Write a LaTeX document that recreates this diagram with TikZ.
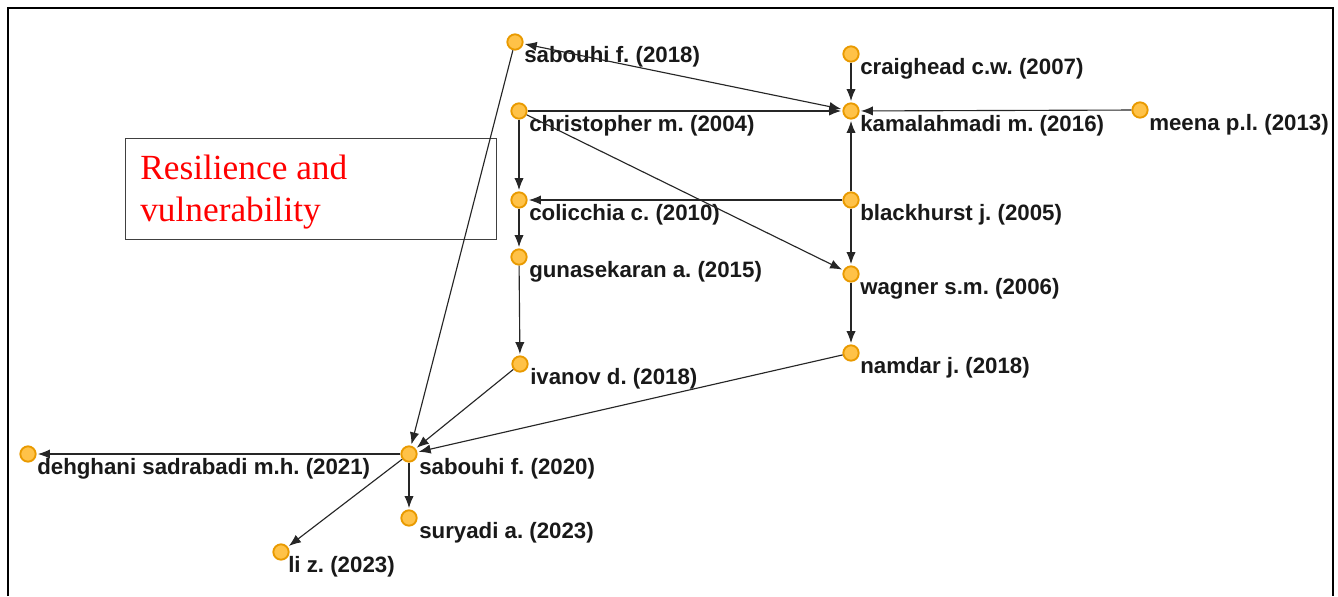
\documentclass[tikz,border=0pt]{standalone}
\usepackage{fontspec}
\setmainfont{Liberation Sans}
\newfontfamily\serifred{Liberation Serif}
\usetikzlibrary{arrows.meta,calc}
\definecolor{dotfill}{HTML}{FFC248}
\definecolor{dotdraw}{HTML}{E99A00}
\definecolor{boxgray}{HTML}{404040}
\frenchspacing
\begin{document}
\begin{tikzpicture}[x=0.75pt,y=-0.75pt,
  dot/.style={circle,fill=dotfill,draw=dotdraw,line width=1.4pt,minimum size=11.5pt,inner sep=0pt},
  lab/.style={anchor=west,inner sep=0pt,font=\fontsize{16.7pt}{19pt}\selectfont\bfseries,text=black!90},
  edge/.style={-{Latex[length=9pt,width=7pt]},line width=0.85pt,black!85,shorten >=1pt},
  bedge/.style={{Latex[length=9pt,width=7pt]}-{Latex[length=9pt,width=7pt]},line width=0.85pt,black!85,shorten >=1pt,shorten <=1pt},
  frame/.style={line width=1.6pt,black},
  boxsty/.style={draw=boxgray,line width=1.1pt,inner sep=0pt,anchor=north west,minimum width=278.25pt,minimum height=75.75pt},
  redtext/.style={anchor=north west,inner sep=0pt,align=left,text=red,font=\serifred\fontsize{26.5pt}{31.5pt}\selectfont}
]
\useasboundingbox (0,0) rectangle (1338,596);
\fill[white] (0,0) rectangle (1338,596);
\draw[frame] (8,596) -- (8,8) -- (1333,8) -- (1333,596);

% text box
\node[boxsty] (box) at (125,138) {};
\node[redtext] (boxtext) at (140,155) {Resilience and\\vulnerability};

% nodes
\node[dot] (s18) at (515,42) {};
\node[dot] (crg) at (851,54) {};
\node[dot] (chr) at (519,111) {};
\node[dot] (kam) at (851,111) {};
\node[dot] (mee) at (1140,110) {};
\node[dot] (col) at (519,200) {};
\node[dot] (bla) at (851,200) {};
\node[dot] (gun) at (519,257) {};
\node[dot] (wag) at (851,274) {};
\node[dot] (iva) at (520,364) {};
\node[dot] (nam) at (851,353) {};
\node[dot] (s20) at (409,454) {};
\node[dot] (deh) at (28,454) {};
\node[dot] (sur) at (409,518) {};
\node[dot] (liz) at (281,552) {};

% labels
\node[lab] (s18L) at ($(s18)+(9,15)$) {sabouhi f. (2018)};
\node[lab] (crgL) at ($(crg)+(9,15)$) {craighead c.w. (2007)};
\node[lab] (chrL) at ($(chr)+(10,15)$) {christopher m. (2004)};
\node[lab] (kamL) at ($(kam)+(9,15)$) {kamalahmadi m. (2016)};
\node[lab] (meeL) at ($(mee)+(9,15)$) {meena p.l. (2013)};
\node[lab] (colL) at ($(col)+(10,15)$) {colicchia c. (2010)};
\node[lab] (blaL) at ($(bla)+(9,15)$) {blackhurst j. (2005)};
\node[lab] (gunL) at ($(gun)+(10,15)$) {gunasekaran a. (2015)};
\node[lab] (wagL) at ($(wag)+(9,15)$) {wagner s.m. (2006)};
\node[lab] (ivaL) at ($(iva)+(10,15)$) {ivanov d. (2018)};
\node[lab] (namL) at ($(nam)+(9,15)$) {namdar j. (2018)};
\node[lab] (s20L) at ($(s20)+(10,15)$) {sabouhi f. (2020)};
\node[lab] (dehL) at ($(deh)+(9,15)$) {dehghani sadrabadi m.h. (2021)};
\node[lab] (surL) at ($(sur)+(10,15)$) {suryadi a. (2023)};
\node[lab] (lizL) at ($(liz)+(7,15)$) {li z. (2023)};

% edges
\draw[bedge] (s18) -- (kam);
\draw[edge] (crg) -- (kam);
\draw[edge] (chr) -- (kam);
\draw[edge] (mee) -- (kam);
\draw[edge] (bla) -- (kam);
\draw[edge] (chr) -- (col);
\draw[edge] (bla) -- (col);
\draw[edge] (chr) -- (wag);
\draw[edge] (bla) -- (wag);
\draw[edge] (col) -- (gun);
\draw[edge] (gun) -- (iva);
\draw[edge] (wag) -- (nam);
\draw[edge] (iva) -- (s20);
\draw[edge] (nam) -- (s20);
\draw[edge] (s18) -- (s20);
\draw[edge] (s20) -- (deh);
\draw[edge] (s20) -- (sur);
\draw[edge] (s20) -- (liz);
\end{tikzpicture}
\end{document}
